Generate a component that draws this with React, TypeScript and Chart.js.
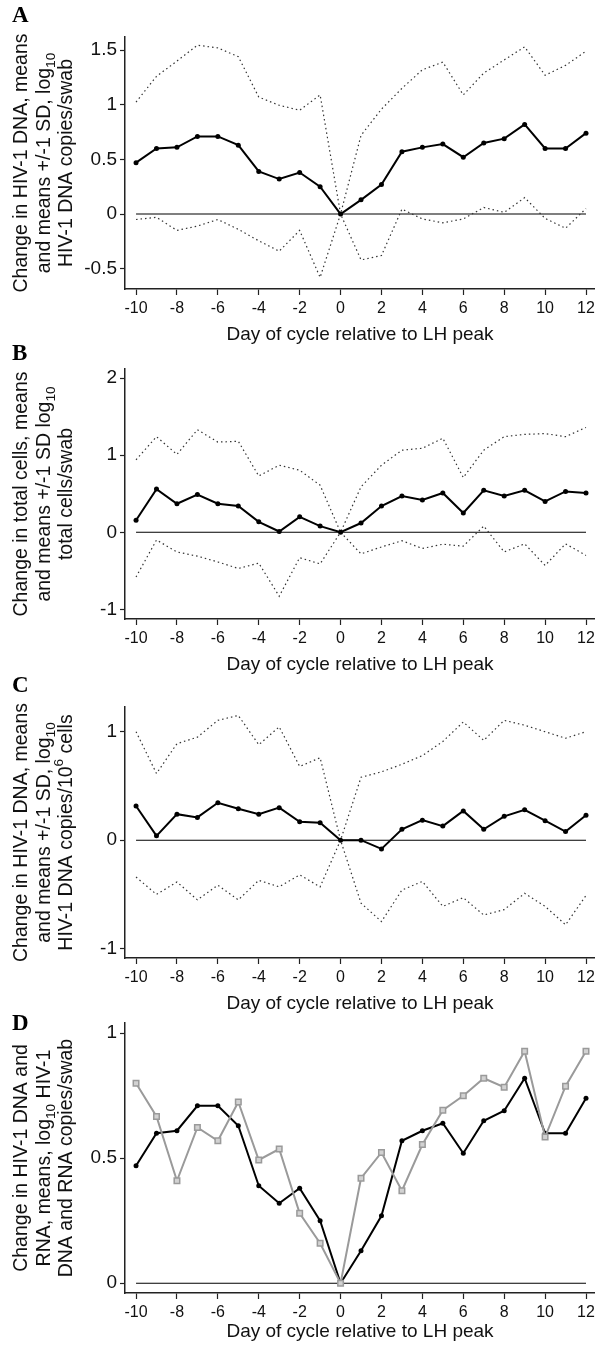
import React, { useEffect, useRef } from "react";
import { Chart, registerables } from "chart.js";

Chart.register(...registerables);

// ---------- data ----------
const days = [-10, -9, -8, -7, -6, -5, -4, -3, -2, -1, 0, 1, 2, 3, 4, 5, 6, 7, 8, 9, 10, 11, 12];
const xTicks = [-10, -8, -6, -4, -2, 0, 2, 4, 6, 8, 10, 12];

// Panel A: HIV-1 DNA copies/swab
const dnaMean = [0.47, 0.6, 0.61, 0.71, 0.71, 0.63, 0.39, 0.32, 0.38, 0.25, 0, 0.13, 0.27, 0.57, 0.61, 0.64, 0.52, 0.65, 0.69, 0.82, 0.6, 0.6, 0.74];
const dnaUpper = [1.025, 1.26, 1.4, 1.545, 1.52, 1.44, 1.07, 0.995, 0.95, 1.09, 0, 0.72, 0.96, 1.15, 1.32, 1.39, 1.09, 1.29, 1.41, 1.53, 1.27, 1.36, 1.49];
const dnaLower = [-0.05, -0.03, -0.15, -0.11, -0.05, -0.14, -0.245, -0.34, -0.15, -0.58, 0, -0.42, -0.38, 0.045, -0.045, -0.08, -0.045, 0.06, 0.015, 0.15, -0.04, -0.13, 0.05];
const yTicksA = [-0.5, 0, 0.5, 1, 1.5];

// Panel B: total cells/swab
const cellsMean = [0.155, 0.56, 0.37, 0.49, 0.37, 0.34, 0.135, 0.01, 0.2, 0.08, 0, 0.12, 0.34, 0.47, 0.42, 0.51, 0.25, 0.545, 0.47, 0.545, 0.4, 0.53, 0.51];
const cellsUpper = [0.94, 1.24, 1.01, 1.33, 1.17, 1.18, 0.73, 0.87, 0.805, 0.61, 0, 0.59, 0.87, 1.065, 1.09, 1.22, 0.71, 1.065, 1.24, 1.27, 1.28, 1.24, 1.36];
const cellsLower = [-0.58, -0.1, -0.255, -0.31, -0.385, -0.47, -0.4, -0.83, -0.33, -0.41, 0, -0.28, -0.19, -0.11, -0.21, -0.155, -0.18, 0.08, -0.255, -0.15, -0.43, -0.15, -0.3];
const yTicksB = [-1, 0, 1, 2];

// Panel C: HIV-1 DNA copies/10^6 cells
const normMean = [0.315, 0.04, 0.24, 0.21, 0.345, 0.29, 0.24, 0.3, 0.17, 0.16, 0, 0, -0.08, 0.1, 0.185, 0.13, 0.27, 0.1, 0.22, 0.28, 0.18, 0.08, 0.23];
const normUpper = [1.0, 0.615, 0.89, 0.95, 1.105, 1.15, 0.88, 1.045, 0.68, 0.76, 0, 0.58, 0.63, 0.7, 0.78, 0.91, 1.09, 0.92, 1.105, 1.06, 1.0, 0.94, 1.0];
const normLower = [-0.34, -0.5, -0.385, -0.55, -0.415, -0.55, -0.37, -0.43, -0.32, -0.43, 0, -0.58, -0.75, -0.46, -0.38, -0.61, -0.53, -0.69, -0.64, -0.49, -0.61, -0.78, -0.51];
const yTicksC = [-1, 0, 1];

// Panel D: HIV-1 RNA copies/swab (with DNA mean)
const rnaMean = [0.8, 0.667, 0.41, 0.623, 0.57, 0.725, 0.493, 0.537, 0.28, 0.16, 0, 0.42, 0.523, 0.37, 0.555, 0.692, 0.75, 0.82, 0.784, 0.928, 0.585, 0.788, 0.928];
const yTicksD = [0, 0.5, 1];

const xTitle = "Day of cycle relative to LH peak";

type Seg = { t: string; sub?: boolean; sup?: boolean };

const titleA: Seg[][] = [
  [{ t: "Change in HIV-1 DNA, means" }],
  [{ t: "and means +/-1 SD, log" }, { t: "10", sub: true }],
  [{ t: "HIV-1 DNA copies/swab" }],
];
const titleB: Seg[][] = [
  [{ t: "Change in total cells, means" }],
  [{ t: "and means +/-1 SD log" }, { t: "10", sub: true }],
  [{ t: "total cells/swab" }],
];
const titleC: Seg[][] = [
  [{ t: "Change in HIV-1 DNA, means" }],
  [{ t: "and means +/-1 SD, log" }, { t: "10", sub: true }],
  [{ t: "HIV-1 DNA copies/10" }, { t: "6", sup: true }, { t: " cells" }],
];
const titleD: Seg[][] = [
  [{ t: "Change in HIV-1 DNA and" }],
  [{ t: "RNA, means, log" }, { t: "10", sub: true }, { t: " HIV-1" }],
  [{ t: "DNA and RNA copies/swab" }],
];

// ---------- styling ----------
const SANS = "'Liberation Sans', Arial, Helvetica, sans-serif";
const SERIF = "'Liberation Serif', 'Times New Roman', serif";
const INK = "#111";
const AXIS = "#222";
const CANVAS_W = 630;
const PLOT_LEFT = 125;
const RIGHT_PAD = CANVAS_W - 595;
const X_MIN = -10.54;
const X_MAX = 12.44;
const Y_TITLE_SIZE = 19.5;
const Y_TITLE_X = [22, 45, 67];
const X_TITLE_SIZE = 19;
const BOTTOM_PAD = 8;

const pts = (vals: number[]) => days.map((d, i) => ({ x: d, y: vals[i] }));
const zeroLine = () => [
  { x: days[0], y: 0 },
  { x: days[days.length - 1], y: 0 },
];

function zeroDs() {
  return {
    data: zeroLine(),
    borderColor: "#000",
    borderWidth: 1.1,
    pointRadius: 0,
    order: 5,
  };
}
function dottedDs(vals: number[]) {
  return {
    data: pts(vals),
    borderColor: "#333",
    borderWidth: 1.2,
    borderDash: [1.5, 3],
    pointRadius: 0,
    order: 3,
  };
}
function meanDs(vals: number[]) {
  return {
    data: pts(vals),
    borderColor: "#000",
    backgroundColor: "#000",
    borderWidth: 2,
    pointRadius: 2.5,
    pointBorderWidth: 0,
    pointBackgroundColor: "#000",
    order: 2,
  };
}
function rnaDs(vals: number[]) {
  return {
    data: pts(vals),
    borderColor: "#9a9a9a",
    borderWidth: 2,
    pointStyle: "rect",
    pointRadius: 3.9,
    pointBackgroundColor: "#d2d2d2",
    pointBorderColor: "#9a9a9a",
    pointBorderWidth: 1.5,
    order: 1,
  };
}

type Panel = {
  key: string;
  top: number;
  plotTop: number;
  plotBottom: number;
  titleY: number;
  letterY: number;
  yMin: number;
  yMax: number;
  yTicks: number[];
  yTitle: Seg[][];
  datasets: any[];
};

const panels: Panel[] = [
  {
    key: "A", top: 0, plotTop: 37, plotBottom: 289, titleY: 334, letterY: 22,
    yMin: -0.686, yMax: 1.62, yTicks: yTicksA, yTitle: titleA,
    datasets: [zeroDs(), dottedDs(dnaUpper), dottedDs(dnaLower), meanDs(dnaMean)],
  },
  {
    key: "B", top: 340, plotTop: 369, plotBottom: 619, titleY: 664, letterY: 360,
    yMin: -1.125, yMax: 2.118, yTicks: yTicksB, yTitle: titleB,
    datasets: [zeroDs(), dottedDs(cellsUpper), dottedDs(cellsLower), meanDs(cellsMean)],
  },
  {
    key: "C", top: 675, plotTop: 707, plotBottom: 958, titleY: 1003, letterY: 692,
    yMin: -1.086, yMax: 1.228, yTicks: yTicksC, yTitle: titleC,
    datasets: [zeroDs(), dottedDs(normUpper), dottedDs(normLower), meanDs(normMean)],
  },
  {
    key: "D", top: 1008, plotTop: 1023, plotBottom: 1293, titleY: 1331, letterY: 1030,
    yMin: -0.039, yMax: 1.041, yTicks: yTicksD, yTitle: titleD,
    datasets: [zeroDs(), meanDs(dnaMean), rnaDs(rnaMean)],
  },
];

function canvasHeight(p: Panel) {
  return Math.ceil(p.titleY - p.top + X_TITLE_SIZE / 2 + BOTTOM_PAD);
}

function decoPlugin(p: Panel) {
  return {
    id: "deco" + p.key,
    afterDraw(chart: any) {
      const ctx = chart.ctx as CanvasRenderingContext2D;
      const ca = chart.chartArea;
      const cy = (ca.top + ca.bottom) / 2;
      ctx.save();
      // panel letter
      ctx.fillStyle = "#000";
      ctx.font = `bold 23px ${SERIF}`;
      ctx.textAlign = "left";
      ctx.textBaseline = "alphabetic";
      ctx.fillText(p.key, 12, p.letterY - p.top);
      // rotated multi-line y title
      const fontFor = (s: Seg) =>
        `${s.sub || s.sup ? Y_TITLE_SIZE * 0.7 : Y_TITLE_SIZE}px ${SANS}`;
      ctx.fillStyle = INK;
      ctx.textBaseline = "middle";
      p.yTitle.forEach((segs, i) => {
        let total = 0;
        segs.forEach((s) => {
          ctx.font = fontFor(s);
          total += ctx.measureText(s.t).width;
        });
        ctx.save();
        ctx.translate(Y_TITLE_X[i], cy);
        ctx.rotate(-Math.PI / 2);
        let x = -total / 2;
        segs.forEach((s) => {
          ctx.font = fontFor(s);
          const dy = s.sub ? Y_TITLE_SIZE * 0.32 : s.sup ? -Y_TITLE_SIZE * 0.38 : 0;
          ctx.fillText(s.t, x, dy);
          x += ctx.measureText(s.t).width;
        });
        ctx.restore();
      });
      ctx.restore();
    },
  };
}

function PanelChart({ p }: { p: Panel }) {
  const ref = useRef<HTMLCanvasElement | null>(null);
  const H = canvasHeight(p);
  useEffect(() => {
    if (!ref.current) return;
    const plotTopLocal = p.plotTop - p.top;
    const plotBottomLocal = p.plotBottom - p.top;
    const scaleBottomLocal = H - BOTTOM_PAD;
    const chart = new Chart(ref.current, {
      type: "line",
      data: { datasets: p.datasets as any },
      options: {
        animation: false,
        responsive: false,
        maintainAspectRatio: false,
        events: [],
        elements: { line: { tension: 0 } },
        layout: { padding: { top: plotTopLocal, left: 0, right: RIGHT_PAD, bottom: BOTTOM_PAD } },
        plugins: {
          legend: { display: false },
          tooltip: { enabled: false },
          title: { display: false },
        },
        scales: {
          x: {
            type: "linear",
            min: X_MIN,
            max: X_MAX,
            afterBuildTicks: (s: any) => {
              s.ticks = xTicks.map((v) => ({ value: v }));
            },
            afterFit: (s: any) => {
              s.height = scaleBottomLocal - plotBottomLocal;
            },
            ticks: {
              autoSkip: false,
              maxRotation: 0,
              minRotation: 0,
              padding: 4,
              color: INK,
              font: { family: SANS, size: 16, lineHeight: 1.2 },
              callback: (v: any) => String(v),
            },
            grid: {
              display: true,
              drawOnChartArea: false,
              drawTicks: true,
              tickLength: 6,
              tickWidth: 1.2,
              tickColor: AXIS,
              color: AXIS,
            },
            border: { display: true, color: AXIS, width: 1.5 },
            title: {
              display: true,
              text: xTitle,
              color: INK,
              font: { family: SANS, size: X_TITLE_SIZE, lineHeight: 1 },
              padding: { top: 0, bottom: 0 },
            },
          },
          y: {
            type: "linear",
            min: p.yMin,
            max: p.yMax,
            afterBuildTicks: (s: any) => {
              s.ticks = p.yTicks.map((v) => ({ value: v }));
            },
            afterFit: (s: any) => {
              s.width = PLOT_LEFT;
            },
            ticks: {
              autoSkip: false,
              padding: 3,
              color: INK,
              font: { family: SANS, size: 19, lineHeight: 1.2 },
              callback: (v: any) => String(v),
            },
            grid: {
              display: true,
              drawOnChartArea: false,
              drawTicks: true,
              tickLength: 5,
              tickWidth: 1.2,
              tickColor: AXIS,
              color: AXIS,
            },
            border: { display: true, color: AXIS, width: 1.5 },
          },
        },
      } as any,
      plugins: [decoPlugin(p)],
    });
    return () => chart.destroy();
  }, [p, H]);
  return (
    <canvas
      ref={ref}
      width={CANVAS_W}
      height={H}
      style={{ position: "absolute", left: 0, top: p.top, width: CANVAS_W, height: H, display: "block" }}
    />
  );
}

export default function App() {
  useEffect(() => {
    document.body.style.margin = "0";
  }, []);
  return (
    <div
      style={{
        position: "absolute",
        left: 0,
        top: 0,
        width: 595,
        height: 1351,
        overflow: "hidden",
        background: "#fff",
      }}
    >
      {panels.map((p) => (
        <PanelChart key={p.key} p={p} />
      ))}
    </div>
  );
}
